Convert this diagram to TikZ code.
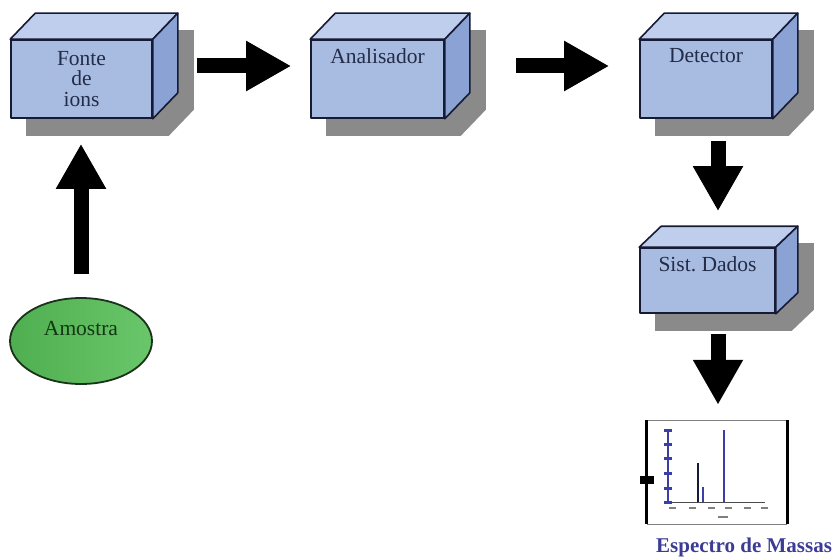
\documentclass[tikz,border=0pt]{standalone}
\usepackage{fontspec}
\setmainfont{Liberation Serif}
\usepackage{tikz}
\usetikzlibrary{arrows.meta,shapes.geometric}

\definecolor{boxfront}{RGB}{168,188,226}
\definecolor{boxtop}{RGB}{190,206,236}
\definecolor{boxside}{RGB}{138,162,212}
\definecolor{boxline}{RGB}{22,26,52}
\definecolor{boxshadow}{RGB}{138,138,138}
\definecolor{boxtext}{RGB}{34,44,72}
\definecolor{samplefill}{RGB}{86,190,86}
\definecolor{sampleline}{RGB}{25,50,25}
\definecolor{sampletext}{RGB}{18,55,18}
\definecolor{peak}{RGB}{58,62,165}
\definecolor{spectext}{RGB}{60,60,150}

\pgfdeclarelayer{bg}
\pgfsetlayers{bg,main}

% shadow, top and side of a box around its front face
\newcommand{\cubefaces}[3]{%
    \begin{pgfonlayer}{bg}
        \fill[boxshadow] ([shift={(16,17)}]#1.south west) -- ([shift={(16,17)}]#1.north west)
            -- ([shift={({16+#2},{17-#3})}]#1.north west) -- ([shift={({16+#2},{17-#3})}]#1.north east)
            -- ([shift={({16+#2},{17-#3})}]#1.south east) -- ([shift={(16,17)}]#1.south east) -- cycle;
    \end{pgfonlayer}
    \filldraw[face line, fill=boxtop] (#1.north west) -- ++(#2,-#3)
        -- ([shift={(#2,-#3)}]#1.north east) -- (#1.north east) -- cycle;
    \filldraw[face line, fill=boxside] (#1.north east) -- ++(#2,-#3)
        -- ([shift={(#2,-#3)}]#1.south east) -- (#1.south east) -- cycle;
}

\begin{document}
\begin{tikzpicture}
    [x=1pt, y=-1pt,
    face line/.style={draw=boxline, line width=1.6pt, line join=round},
    face/.style={face line, fill=boxfront, inner sep=0pt, minimum height=78},
    boxlabel/.style={anchor=north, yshift=-8pt, inner sep=1pt, align=center,
      text=boxtext, font=\fontsize{21.5}{20.5}\selectfont},
    sample/.style={ellipse, draw=sampleline, line width=1.8pt, left color=samplefill!92!black,
      right color=samplefill!88!white, inner sep=0pt, minimum width=142, minimum height=86},
    samplelabel/.style={anchor=north, yshift=-23pt, inner sep=1pt, text=sampletext,
      font=\fontsize{21.5}{20}\selectfont},
    blockarrow/.style={line width=15pt, -{Triangle[length=45pt, width=47pt]}},
    spectitle/.style={text=spectext, inner sep=0pt, font=\bfseries\fontsize{21}{21}\selectfont}]
    \useasboundingbox (0,0) rectangle (835,559);

    \node[face, minimum width=141, label={[boxlabel, yshift=-3pt]north:Fonte\\de\\ions}] (fonte) at (81.5,79) {};
    \cubefaces{fonte}{25}{26}
    \node[face, minimum width=133, label={[boxlabel]north:Analisador}] (anal) at (377.5,79) {};
    \cubefaces{anal}{25}{26}
    \node[face, minimum width=132, label={[boxlabel]north:Detector}] (detector) at (706,79) {};
    \cubefaces{detector}{25}{26}
    \node[face, minimum width=135, minimum height=65, label={[boxlabel]north:Sist.\ Dados}] (dados) at (707.5,280.5) {};
    \cubefaces{dados}{22}{21}

    \node[sample, label={[samplelabel]north:Amostra}] (amostra) at (81,341) {};

    % spectrum picture
    \node[minimum width=140, minimum height=104, inner sep=0pt] (espectro) at (717,472) {};
    \draw[gray, line width=0.6pt] (espectro.north west) -- (espectro.north east);
    \draw[gray, line width=0.6pt] (espectro.south west) -- (espectro.south east);
    \draw[line width=3pt] (espectro.north west) -- (espectro.south west);
    \draw[line width=3pt] (espectro.north east) -- (espectro.south east);
    \fill (640,476) rectangle (654,484);
    \draw[line width=0.8pt, black!70] (668,502) -- (765,502);
    \draw[peak, line width=1.5pt] (668,430) -- (668,502);
    \foreach \y in {430,444,458,473,488,502}
      \draw[peak, line width=3pt] (664,\y) -- (672,\y);
    \draw[boxline, line width=2pt] (698,463) -- (698,502);
    \draw[peak, line width=2pt] (703,487) -- (703,502);
    \draw[peak, line width=2pt] (724,430) -- (724,502);
    \foreach \x in {672,692,711,728,747,764}
      \draw[gray, line width=1.5pt] (\x-3.5,508) -- (\x+3.5,508);
    \draw[gray, line width=1.5pt] (718,517) -- (728,517);
    \node[spectitle, anchor=west] (titulo) at (656,547) {Espectro de Massas};

    \draw[blockarrow] ([shift={(44,-13)}]fonte.east) -- ([shift={(-19,-13)}]anal.west);
    \draw[blockarrow] ([shift={(71,-13)}]anal.east) -- ([shift={(-30,-13)}]detector.west);
    \draw[blockarrow] ([shift={(0,-23)}]amostra.north) -- ([shift={(-0.5,25)}]fonte.south);
    \draw[blockarrow] ([shift={(12,22)}]detector.south) -- ([shift={(10.5,-36)}]dados.north);
    \draw[blockarrow] ([shift={(10.5,20)}]dados.south) -- ([shift={(1,-15)}]espectro.north);
\end{tikzpicture}
\end{document}
